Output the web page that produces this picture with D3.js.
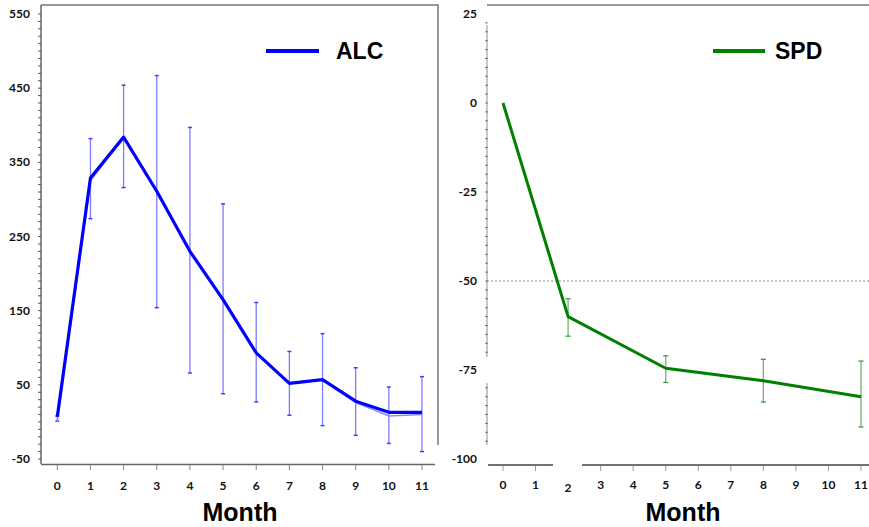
<!DOCTYPE html>
<html>
<head>
<meta charset="utf-8">
<script src="https://cdn.jsdelivr.net/npm/d3@7"></script>
<style>
  body { margin: 0; background: #fff; }
  .tick-label { font-family: Lato, "Open Sans", sans-serif; font-weight: 700; font-size: 12px; fill: #111; }
  .axis-title { font-family: "Liberation Sans", Arial, sans-serif; font-weight: 700; font-size: 25px; fill: #000; }
  .legend-text { font-family: "Liberation Sans", Arial, sans-serif; font-weight: 700; font-size: 23px; fill: #000; }
</style>
</head>
<body>
<svg id="chart" width="869" height="527"></svg>
<script>
// ALC panel data
const alcMonths = [0, 1, 2, 3, 4, 5, 6, 7, 8, 9, 10, 11];
const alcMean = [7, 329, 384, 311, 230, 165, 93, 52, 57, 28, 13, 13];
const alcAlt = [1, 325, 384, 311, 230, 165, 93, 52, 57, 26, 8, 10];
const alcUpper = [8, 382, 454, 467, 397, 294, 161, 95, 119, 73, 47, 61];
const alcLower = [1, 274, 316, 154, 66, 38, 27, 9, -5, -18, -29, -40];
const alcYTicks = [-50, 50, 150, 250, 350, 450, 550];

// SPD panel data
const spdMonths = [0, 2, 5, 8, 11];
const spdMean = [0, -60, -74.5, -78, -82.5];
const spdUpper = [null, -55, -71, -72, -72.5];
const spdLower = [null, -65.5, -78.5, -84, -91];
const spdYTicks = [-100, -75, -50, -25, 0, 25];
const spdXTicks = [0, 1, 2, 3, 4, 5, 6, 7, 8, 9, 10, 11];

const svg = d3.select("#chart");

// ---------- left panel (ALC) ----------
const xL = d3.scaleLinear().domain([0, 11]).range([57.3, 422]);
const yL = d3.scaleLinear().domain([-50, 550]).range([459, 14]);
const left = svg.append("g");

// frame: top + right border
left.append("path")
    .attr("d", "M41,5 H438 V445")
    .attr("fill", "none")
    .attr("stroke", "#777")
    .attr("stroke-width", 1.5);

// y axis line + minor ticks
left.append("line")
    .attr("x1", 41).attr("x2", 41)
    .attr("y1", 5).attr("y2", 464)
    .attr("stroke", "#666").attr("stroke-width", 1.5);
left.selectAll("line.minor")
    .data(d3.range(-50, 551, 10))
    .enter().append("line")
    .attr("class", "minor")
    .attr("x1", 38).attr("x2", 41)
    .attr("y1", d => yL(d)).attr("y2", d => yL(d))
    .attr("stroke", "#555").attr("stroke-width", 1);
left.selectAll("text.ytick")
    .data(alcYTicks)
    .enter().append("text")
    .attr("class", "tick-label")
    .attr("x", 30).attr("y", d => yL(d) + 4)
    .attr("text-anchor", "end")
    .text(d => d);

// x axis line + ticks
left.append("line")
    .attr("x1", 41).attr("x2", 435)
    .attr("y1", 464.5).attr("y2", 464.5)
    .attr("stroke", "#666").attr("stroke-width", 1.5);
left.selectAll("line.xtick")
    .data(alcMonths)
    .enter().append("line")
    .attr("x1", d => xL(d)).attr("x2", d => xL(d))
    .attr("y1", 465).attr("y2", 470)
    .attr("stroke", "#888").attr("stroke-width", 1);
left.selectAll("text.xtick")
    .data(alcMonths)
    .enter().append("text")
    .attr("class", "tick-label")
    .attr("x", d => xL(d)).attr("y", 490)
    .attr("text-anchor", "middle")
    .text(d => d);

// error bars
const alcErr = alcMonths.map((m, i) => ({ m, hi: alcUpper[i], lo: alcLower[i] }));
left.selectAll("line.err")
    .data(alcErr)
    .enter().append("line")
    .attr("x1", d => xL(d.m)).attr("x2", d => xL(d.m))
    .attr("y1", d => yL(d.hi)).attr("y2", d => yL(d.lo))
    .attr("stroke", "#7c7cff").attr("stroke-width", 1.3);
["hi", "lo"].forEach(k => {
    left.selectAll("line.cap" + k)
        .data(alcErr)
        .enter().append("line")
        .attr("x1", d => xL(d.m) - 2).attr("x2", d => xL(d.m) + 2)
        .attr("y1", d => yL(d[k])).attr("y2", d => yL(d[k]))
        .attr("stroke", "#4040ff").attr("stroke-width", 1.5);
});

// lines
const lineL = d3.line().x(d => xL(d[0])).y(d => yL(d[1]));
left.append("path")
    .datum(alcMonths.map((m, i) => [m, alcAlt[i]]))
    .attr("d", lineL)
    .attr("fill", "none")
    .attr("stroke", "#8a8aff").attr("stroke-width", 1.5);
left.append("path")
    .datum(alcMonths.map((m, i) => [m, alcMean[i]]))
    .attr("d", lineL)
    .attr("fill", "none")
    .attr("stroke", "#0000ff").attr("stroke-width", 3.2)
    .attr("stroke-linejoin", "round");

// legend
left.append("line")
    .attr("x1", 266).attr("x2", 319)
    .attr("y1", 51).attr("y2", 51)
    .attr("stroke", "#0000ff").attr("stroke-width", 4);
left.append("text")
    .attr("class", "legend-text")
    .attr("x", 336).attr("y", 59)
    .text("ALC");

left.append("text")
    .attr("class", "axis-title")
    .attr("x", 240).attr("y", 521)
    .attr("text-anchor", "middle")
    .text("Month");

// ---------- right panel (SPD) ----------
const xR = d3.scaleLinear().domain([0, 11]).range([503, 861]);
const yR = d3.scaleLinear().domain([-100, 25]).range([459, 14]);
const right = svg.append("g");

right.append("line")
    .attr("x1", 487).attr("x2", 869)
    .attr("y1", 5).attr("y2", 5)
    .attr("stroke", "#777").attr("stroke-width", 1.5);

// y axis: light gray with a gap
[[25, 357], [383, 445]].forEach(([a, b]) => {
    right.append("line")
        .attr("x1", 487).attr("x2", 487)
        .attr("y1", a).attr("y2", b)
        .attr("stroke", "#c8c8c8").attr("stroke-width", 2);
});
right.selectAll("line.minor")
    .data(d3.range(-95, 22.6, 2.5).filter(v => yR(v) < 357 || yR(v) > 383))
    .enter().append("line")
    .attr("x1", 485.5).attr("x2", 487.5)
    .attr("y1", d => yR(d)).attr("y2", d => yR(d))
    .attr("stroke", "#444").attr("stroke-width", 1);
right.selectAll("text.ytick")
    .data(spdYTicks)
    .enter().append("text")
    .attr("class", "tick-label")
    .attr("x", 477).attr("y", d => yR(d) + 4)
    .attr("text-anchor", "end")
    .text(d => d);

// reference dashed line at -50
right.append("line")
    .attr("x1", 487).attr("x2", 869)
    .attr("y1", yR(-50)).attr("y2", yR(-50))
    .attr("stroke", "#888").attr("stroke-width", 1)
    .attr("stroke-dasharray", "2,2");

// x axis with gap
[[488, 553], [582, 869]].forEach(([a, b]) => {
    right.append("line")
        .attr("x1", a).attr("x2", b)
        .attr("y1", 465).attr("y2", 465)
        .attr("stroke", "#444").attr("stroke-width", 1.5);
});
right.selectAll("line.xtick")
    .data(spdXTicks.filter(d => d !== 2))
    .enter().append("line")
    .attr("x1", d => xR(d)).attr("x2", d => xR(d))
    .attr("y1", 466).attr("y2", 471)
    .attr("stroke", "#999").attr("stroke-width", 1);
right.selectAll("text.xtick")
    .data(spdXTicks)
    .enter().append("text")
    .attr("class", "tick-label")
    .attr("x", d => xR(d)).attr("y", d => d === 2 ? 492 : 489)
    .attr("text-anchor", "middle")
    .text(d => d);

// error bars
const spdErr = spdMonths.map((m, i) => ({ m, hi: spdUpper[i], lo: spdLower[i] }))
    .filter(d => d.hi !== null);
right.selectAll("line.err")
    .data(spdErr)
    .enter().append("line")
    .attr("x1", d => xR(d.m)).attr("x2", d => xR(d.m))
    .attr("y1", d => yR(d.hi)).attr("y2", d => yR(d.lo))
    .attr("stroke", "#6fb46f").attr("stroke-width", 1.3);
["hi", "lo"].forEach(k => {
    right.selectAll("line.cap" + k)
        .data(spdErr)
        .enter().append("line")
        .attr("x1", d => xR(d.m) - 2.5).attr("x2", d => xR(d.m) + 2.5)
        .attr("y1", d => yR(d[k])).attr("y2", d => yR(d[k]))
        .attr("stroke", "#3a9a3a").attr("stroke-width", 1.3);
});

const lineR = d3.line().x(d => xR(d[0])).y(d => yR(d[1]));
right.append("path")
    .datum(spdMonths.map((m, i) => [m, spdMean[i]]))
    .attr("d", lineR)
    .attr("fill", "none")
    .attr("stroke", "#008000").attr("stroke-width", 3)
    .attr("stroke-linejoin", "round");

// legend
right.append("line")
    .attr("x1", 713).attr("x2", 765)
    .attr("y1", 51).attr("y2", 51)
    .attr("stroke", "#008000").attr("stroke-width", 4);
right.append("text")
    .attr("class", "legend-text")
    .attr("x", 775).attr("y", 59)
    .text("SPD");

right.append("text")
    .attr("class", "axis-title")
    .attr("x", 683).attr("y", 521)
    .attr("text-anchor", "middle")
    .text("Month");
</script>
</body>
</html>
